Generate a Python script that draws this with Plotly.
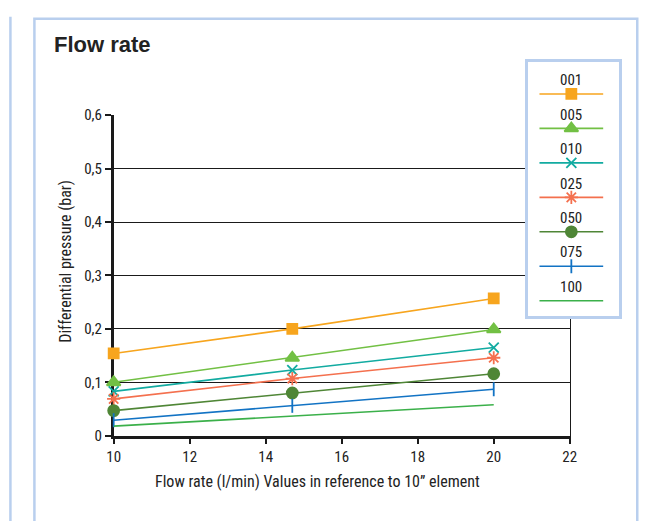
import plotly.graph_objects as go

# ---- data ----
flow = [10, 14.7, 20]
series_names = ["001", "005", "010", "025", "050", "075", "100"]
dp_001 = [0.154, 0.200, 0.257]
dp_005 = [0.100, 0.146, 0.199]
dp_010 = [0.083, 0.123, 0.165]
dp_025 = [0.069, 0.107, 0.146]
dp_050 = [0.047, 0.080, 0.116]
dp_075 = [0.029, 0.056, 0.087]
dp_100 = [0.018, 0.037, 0.058]
series_values = [dp_001, dp_005, dp_010, dp_025, dp_050, dp_075, dp_100]

x_tickvals = [10, 12, 14, 16, 18, 20, 22]
y_tickvals = [0, 0.1, 0.2, 0.3, 0.4, 0.5, 0.6]
y_ticktext = ["0", "0,1", "0,2", "0,3", "0,4", "0,5", "0,6"]

# ---- style ----
colors = ["#f7a51e", "#72c044", "#12aba1", "#f4704e", "#4f8636", "#1273c4", "#3bb04a"]
symbols = ["square", "triangle-up", "x-thin", "asterisk-open", "circle", "line-ns", None]
msizes = [10, 12, 10, 11, 11, 10, 0]
W, H = 656, 521
FONT = "Liberation Sans Narrow, Arial Narrow, Roboto Condensed, Liberation Sans, sans-serif"
PANEL = "#b9cfee"
INK = "#222222"


def px(x):
    return x / W


def py(y):
    return 1 - y / H


fig = go.Figure()

for name, vals, c, s, ms in zip(series_names, series_values, colors, symbols, msizes):
    fig.add_trace(go.Scatter(
        x=flow, y=vals, name=name, mode="lines" if s is None else "lines+markers",
        line=dict(color=c, width=1.6), cliponaxis=False,
        marker=dict(symbol=s if s else "circle", size=ms, color=c,
                    line=dict(color=c, width=1.8)),
        showlegend=False, xaxis="x", yaxis="y"))

# right frame line (overlaying axis)
fig.add_trace(go.Scatter(x=[None], y=[None], xaxis="x", yaxis="y3", showlegend=False))

# custom legend (label above line sample) in its own small axes
for i, (name, c, s, ms) in enumerate(zip(series_names, colors, symbols, msizes)):
    fig.add_trace(go.Scatter(x=[0.13, 0.83], y=[i, i], mode="lines",
                             line=dict(color=c, width=1.6), showlegend=False,
                             xaxis="x2", yaxis="y2", hoverinfo="skip"))
    if s is not None:
        fig.add_trace(go.Scatter(x=[0.48], y=[i], mode="markers",
                                 marker=dict(symbol=s, size=ms, color=c,
                                             line=dict(color=c, width=1.8)),
                                 showlegend=False, xaxis="x2", yaxis="y2", hoverinfo="skip"))
    fig.add_annotation(x=0.48, y=i - 0.40, xref="x2", yref="y2", text=name,
                       showarrow=False, font=dict(family=FONT, size=15, color=INK),
                       xanchor="center", yanchor="middle")

fig.update_layout(
    width=W, height=H,
    margin=dict(l=0, r=0, t=0, b=0, pad=0),
    paper_bgcolor="white", plot_bgcolor="white",
    hovermode=False,
    font=dict(family=FONT, color=INK),
    xaxis=dict(domain=[px(109), px(575)], range=[10, 22], tickvals=x_tickvals,
               showgrid=False, zeroline=False, showline=True, linecolor="#1a1a1a",
               linewidth=2.5, ticks="outside", ticklen=6, tickwidth=1.5,
               tickcolor="#1a1a1a", tickfont=dict(family=FONT, size=15, color=INK),
               anchor="y", layer="below traces"),
    yaxis=dict(domain=[py(442), py(110)], range=[0, 0.6], tickvals=y_tickvals,
               ticktext=y_ticktext, showgrid=True, gridcolor="#1a1a1a", gridwidth=1,
               zeroline=False, showline=True, linecolor="#1a1a1a", linewidth=2.5,
               ticks="outside", ticklen=6, tickwidth=1.5, tickcolor="#1a1a1a",
               tickfont=dict(family=FONT, size=15, color=INK), anchor="x",
               layer="below traces"),
    yaxis3=dict(overlaying="y", side="right", range=[0, 0.6], showline=True,
                linecolor="#1a1a1a", linewidth=1.2, showticklabels=False,
                showgrid=False, zeroline=False, ticks=""),
    xaxis2=dict(domain=[px(532), px(625)], range=[0, 1], showline=True, mirror=True,
                linecolor=PANEL, linewidth=2.5, showticklabels=False, showgrid=False,
                zeroline=False, ticks="", anchor="y2", fixedrange=True),
    yaxis2=dict(domain=[py(318), py(55)], range=[6.443, -0.924], showline=True,
                mirror=True, linecolor=PANEL, linewidth=2.5, showticklabels=False,
                showgrid=False, zeroline=False, ticks="", anchor="x2", fixedrange=True),
)

# panel frames
fig.add_shape(type="rect", xref="paper", yref="paper", x0=px(28), x1=px(644),
              y0=-0.05, y1=py(10), line=dict(color=PANEL, width=2.5), layer="below")
fig.add_shape(type="line", xref="paper", yref="paper", x0=px(3.5), x1=px(3.5),
              y0=-0.05, y1=py(8), line=dict(color=PANEL, width=2.5), layer="below")

# titles
fig.add_annotation(x=px(46), y=py(37), xref="paper", yref="paper", text="<b>Flow rate</b>",
                   showarrow=False, xanchor="left", yanchor="middle",
                   font=dict(family="Liberation Sans, Arial, sans-serif", size=22, color=INK))
fig.add_annotation(x=px(60), y=py(261), xref="paper", yref="paper",
                   text="Differential pressure (bar)", textangle=-90, showarrow=False,
                   xanchor="center", yanchor="middle", font=dict(family=FONT, size=16, color=INK))
fig.add_annotation(x=px(317), y=py(489), xref="paper", yref="paper",
                   text="Flow rate (l/min) Values in reference to 10\u201d element",
                   showarrow=False, xanchor="center", yanchor="middle",
                   font=dict(family=FONT, size=16, color=INK))

fig.write_html("out.html", config={"displayModeBar": False},
               post_script="document.body.style.margin='0px';")
